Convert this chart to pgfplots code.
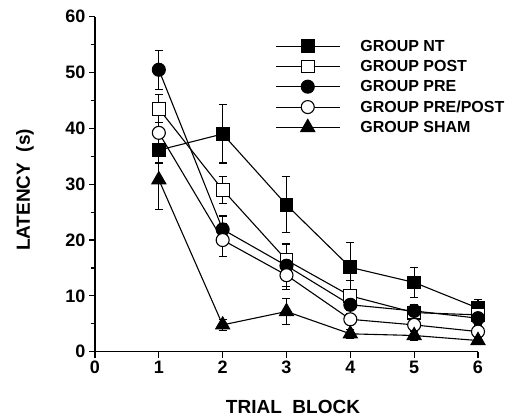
\documentclass[border=0pt]{standalone}
\usepackage{fontspec}
\setmainfont{Liberation Sans}
\usepackage{pgfplots}
\pgfplotsset{compat=1.18}

\begin{document}
\begin{tikzpicture}
\path[use as bounding box] (-95pt,-67.3pt) rectangle (416pt,351.7pt);
\begin{axis}[
    at={(0pt,0pt)}, anchor=south west,
    scale only axis, width=383pt, height=335pt,
    xmin=0, xmax=6, ymin=0, ymax=60,
    clip=false,
    axis lines=left,
    axis line style={-, line width=1.4pt},
    xtick={0,1,...,6},
    ytick={0,10,...,60},
    minor y tick num=1,
    tick align=outside,
    major tick length=6pt, minor tick length=4pt,
    tick style={black, line width=1.2pt},
    /pgf/number format/assume math mode=true,
    tick label style={font=\fontsize{18}{21}\selectfont\bfseries},
    xlabel={TRIAL\ \ BLOCK},
    ylabel={LATENCY\ \ (s)},
    label style={font=\fontsize{19}{22}\selectfont\bfseries},
    xlabel style={at={(axis description cs:0.517,-0.164)}, anchor=center},
    ylabel style={at={(axis description cs:-0.183,0.483)}, anchor=center},
    every axis plot/.append style={black, line width=1.1pt,
        mark options={solid, line width=1.1pt}},
    error bars/y dir=both, error bars/y explicit,
    error bars/error bar style={line width=1.1pt, black},
    error bars/error mark options={rotate=90, mark size=4pt, line width=1.1pt, black},
    legend image code/.code={
        \draw[mark repeat=2, mark phase=2] plot coordinates {(0pt,0pt) (32pt,0pt) (64pt,0pt)};},
    legend style={draw=none, fill=none, inner sep=0pt,
        at={(axis description cs:0.47,0.937)}, anchor=north west,
        font=\fontsize{16}{19}\selectfont\bfseries,
        row sep=3.5pt,
        /tikz/every odd column/.append style={column sep=18pt}},
    legend cell align=left,
]
% GROUP NT
\addplot[mark=square*, mark size=6.4pt] coordinates {
    (1,36.1) +- (0,2.3)
    (2,39.0) +- (0,5.2)
    (3,26.3) +- (0,5.0)
    (4,15.1) +- (0,4.4)
    (5,12.4) +- (0,2.7)
    (6,7.8) +- (0,1.6)
};
% GROUP POST
\addplot[mark=square*, mark size=6.4pt, mark options={fill=white}] coordinates {
    (1,43.5) +- (0,2.5)
    (2,29.0) +- (0,2.4)
    (3,16.4) +- (0,3.0)
    (4,10.0) +- (0,2.7)
    (5,7.0) +- (0,1.5)
    (6,6.6) +- (0,1.5)
};
% GROUP PRE
\addplot[mark=*, mark size=6.5pt] coordinates {
    (1,50.5) +- (0,3.5)
    (2,21.9) +- (0,2.4)
    (3,15.4) +- (0,3.8)
    (4,8.4) +- (0,1.5)
    (5,7.3) +- (0,1.2)
    (6,6.0) +- (0,1.2)
};
% GROUP PRE/POST
\addplot[mark=*, mark size=6.5pt, mark options={fill=white}] coordinates {
    (1,39.2) +- (0,3.2)
    (2,20.0) +- (0,3.0)
    (3,13.7) +- (0,2.5)
    (4,5.8) +- (0,1.0)
    (5,4.8) +- (0,1.0)
    (6,3.6) +- (0,1.0)
};
% GROUP SHAM
\addplot[mark=triangle*, mark size=8pt] coordinates {
    (1,30.8) +- (0,5.4)
    (2,4.8) +- (0,1.0)
    (3,7.2) +- (0,2.3)
    (4,3.2) +- (0,0.8)
    (5,2.9) +- (0,0.8)
    (6,2.0) +- (0,0.6)
};
\legend{GROUP NT, GROUP POST, GROUP PRE, GROUP PRE/POST, GROUP SHAM}
\end{axis}
\end{tikzpicture}
\end{document}
